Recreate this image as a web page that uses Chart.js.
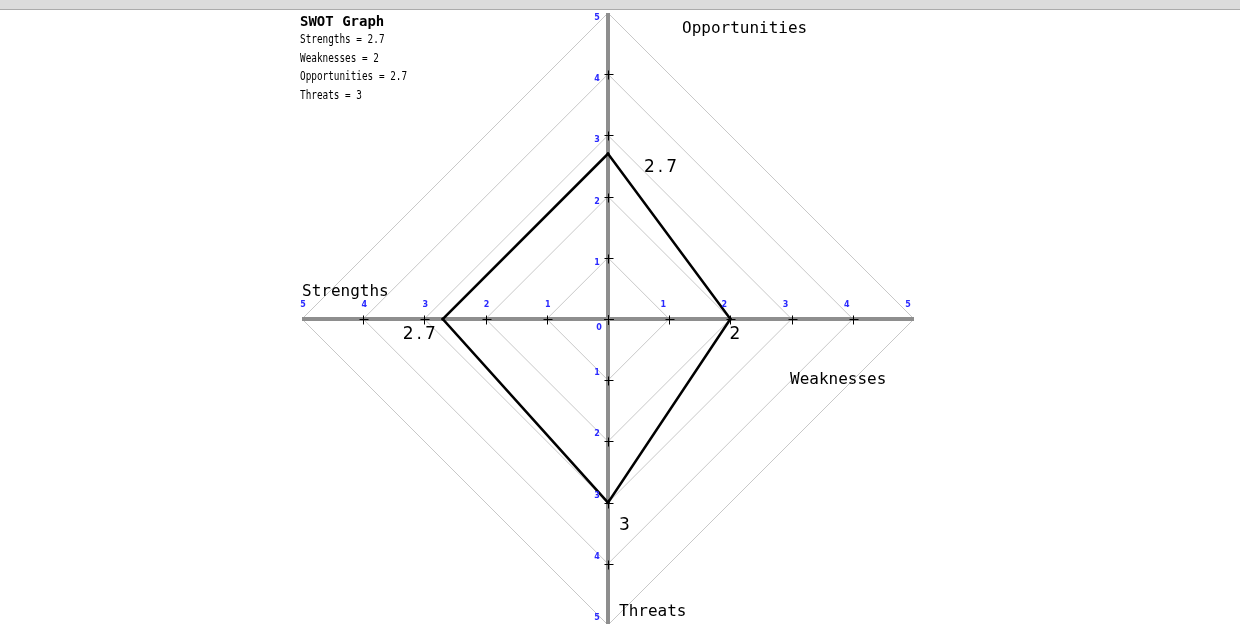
<!DOCTYPE html>
<html>
<head>
<meta charset="utf-8">
<script src="https://cdn.jsdelivr.net/npm/chart.js@4/dist/chart.umd.min.js"></script>
<style>
  html, body { margin: 0; padding: 0; background: #fff; overflow: hidden; width: 1240px; height: 624px; }
  #band { position: absolute; left: 0; top: 0; width: 1240px; height: 9px; background: #dcdcdc; border-bottom: 1px solid #ababab; z-index: 2; }
  #wrap { position: absolute; left: 0; top: 0; width: 1240px; height: 626px; }
</style>
</head>
<body>
<div id="band"></div>
<div id="wrap"><canvas id="c" width="1240" height="626"></canvas></div>
<script>
// ---- data ----
const title = 'SWOT Graph';
const axisNames = ['Opportunities', 'Weaknesses', 'Threats', 'Strengths'];
const scores = [2.7, 2, 3, 2.7];
const summaryOrder = ['Strengths', 'Weaknesses', 'Opportunities', 'Threats'];
const tickValues = [0, 1, 2, 3, 4, 5];
const crossValues = [0, 1, 2, 3, 4];
const scaleMax = 5;

// ---- layout helpers (styles only) ----
const tickLabelOffset = [[-11, 5], [-6, -14], [-11, -7], [1, -14]];
const nameOffset = [[74, 16], [-124, 61], [11, -13], [0, -27]];
const valueOffset = [[36, 14, 'left'], [-1, 16, 'left'], [11, 23, 'left'], [-4, 16, 'right']];

const overlay = {
  id: 'overlay',
  afterDatasetsDraw(chart) {
    const s = chart.scales.r;
    const ctx = chart.ctx;
    ctx.save();
    // tick crosses
    ctx.strokeStyle = '#000';
    ctx.lineWidth = 1;
    axisNames.forEach((_, i) => {
      crossValues.forEach(v => {
        const p = s.getPointPositionForValue(i, v);
        const x = Math.round(p.x) + 0.5, y = Math.round(p.y) + 0.5;
        ctx.beginPath();
        ctx.moveTo(x - 4, y); ctx.lineTo(x + 5, y);
        ctx.moveTo(x, y - 4); ctx.lineTo(x, y + 5);
        ctx.stroke();
      });
    });
    // tick labels
    ctx.fillStyle = '#2a2aff';
    ctx.font = 'bold 8px "DejaVu Sans"';
    ctx.textAlign = 'center';
    ctx.textBaseline = 'middle';
    const c = s.getPointPositionForValue(0, 0);
    ctx.fillText(String(tickValues[0]), c.x - 9, c.y + 9);
    axisNames.forEach((_, i) => {
      tickValues.slice(1).forEach(v => {
        const p = s.getPointPositionForValue(i, v);
        ctx.fillText(String(v), p.x + tickLabelOffset[i][0], p.y + tickLabelOffset[i][1]);
      });
    });
    // axis names
    ctx.fillStyle = '#000';
    ctx.font = '16px "DejaVu Sans Mono"';
    ctx.textAlign = 'left';
    axisNames.forEach((n, i) => {
      const p = s.getPointPositionForValue(i, scaleMax);
      ctx.fillText(n, p.x + nameOffset[i][0], p.y + nameOffset[i][1]);
    });
    // value labels
    ctx.font = '17px "DejaVu Sans"';
    ctx.letterSpacing = '3px';
    scores.forEach((v, i) => {
      const p = s.getPointPositionForValue(i, v);
      ctx.textAlign = valueOffset[i][2];
      ctx.fillText(String(v), p.x + valueOffset[i][0], p.y + valueOffset[i][1]);
    });
    ctx.letterSpacing = '0px';
    // header
    ctx.textAlign = 'left';
    ctx.textBaseline = 'alphabetic';
    ctx.font = 'bold 14px "DejaVu Sans Mono"';
    ctx.fillText(title, 300, 26);
    ctx.font = '12px "DejaVu Sans Mono"';
    summaryOrder.forEach((n, k) => {
      const v = scores[axisNames.indexOf(n)];
      ctx.save();
      ctx.translate(300, 43 + k * 18.6);
      ctx.scale(0.78, 1);
      ctx.fillText(n + ' = ' + v, 0, 0);
      ctx.restore();
    });
    ctx.restore();
  }
};

new Chart(document.getElementById('c'), {
  type: 'radar',
  data: {
    labels: axisNames,
    datasets: [{
      data: scores,
      borderColor: '#000',
      borderWidth: 2.5,
      borderJoinStyle: 'miter',
      fill: false,
      pointRadius: 1.5,
      pointBackgroundColor: '#000',
      pointBorderWidth: 0
    }]
  },
  options: {
    responsive: false,
    animation: false,
    events: [],
    layout: { padding: { left: 302, right: 326, top: 13, bottom: 1 } },
    plugins: { legend: { display: false }, tooltip: { enabled: false } },
    scales: {
      r: {
        min: 0,
        max: scaleMax,
        ticks: { display: false, stepSize: 1 },
        pointLabels: { display: false },
        grid: { circular: false, color: '#c8c8c8', lineWidth: 1 },
        angleLines: { display: true, color: '#8e8e8e', lineWidth: 4 }
      }
    }
  },
  plugins: [overlay]
});
</script>
</body>
</html>
